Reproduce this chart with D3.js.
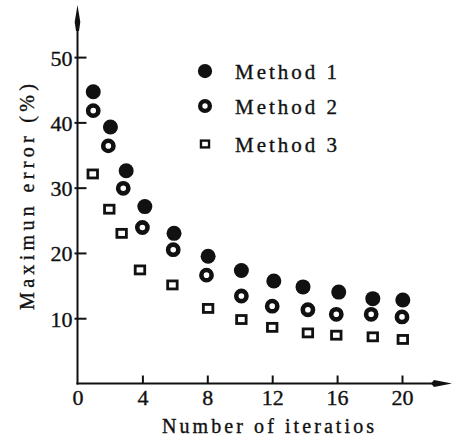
<!DOCTYPE html>
<html>
<head>
<meta charset="utf-8">
<script src="https://cdn.jsdelivr.net/npm/d3@7"></script>
<style>
  html, body { margin: 0; padding: 0; background: #fff; }
  svg { display: block; }
  text { font-family: "Liberation Serif", "DejaVu Serif", serif; fill: #111; stroke: #111; stroke-width: 0.35px; }
</style>
</head>
<body>
<svg id="chart" width="453" height="439"></svg>
<script>
// ---- data ----
const seriesNames = ["Method 1", "Method 2", "Method 3"];
const method1X = [0.97, 2.03, 3.0, 4.15, 5.95, 8.05, 10.1, 12.1, 13.9, 16.1, 18.2, 20.05];
const method1Y = [44.7, 39.3, 32.6, 27.1, 23.0, 19.5, 17.3, 15.7, 14.8, 14.0, 13.0, 12.8];
const method2X = [0.97, 1.9, 2.82, 4.0, 5.9, 7.95, 10.1, 12.0, 14.2, 15.95, 18.1, 20.0];
const method2Y = [41.8, 36.4, 29.9, 23.9, 20.5, 16.6, 13.4, 11.85, 11.3, 10.6, 10.6, 10.2];
const method3X = [0.94, 1.96, 2.72, 3.85, 5.85, 8.05, 10.1, 12.0, 14.2, 15.95, 18.2, 20.05];
const method3Y = [32.1, 26.7, 23.0, 17.4, 15.1, 11.5, 9.8, 8.6, 7.75, 7.4, 7.15, 6.75];
const xTicks = [0, 4, 8, 12, 16, 20];
const yTicks = [10, 20, 30, 40, 50];
const xTitle = "Number of iteratios";
const yTitle = "Maximun error (%)";

// ---- layout ----
const svg = d3.select("#chart");
const ink = "#111";
const x = d3.scaleLinear().domain([0, 20]).range([77.5, 402]);
const y = d3.scaleLinear().domain([0, 50]).range([383.5, 57.1]);
const x0 = x(0), y0 = y(0);

// axes lines with arrows
svg.append("line").attr("x1", x0).attr("x2", x0).attr("y1", y0 + 1).attr("y2", 20)
  .attr("stroke", ink).attr("stroke-width", 2);
svg.append("path").attr("d", `M${x0},5 L${x0 + 2.8},22 L${x0 + 1.5},31 L${x0 - 1.5},31 L${x0 - 2.8},22 Z`)
  .attr("fill", ink);
svg.append("line").attr("x1", x0 - 1).attr("x2", 436).attr("y1", y0).attr("y2", y0)
  .attr("stroke", ink).attr("stroke-width", 2);
svg.append("path").attr("d", `M452,${y0} L434,${y0 - 3.6} L431,${y0} L434,${y0 + 3.6} Z`)
  .attr("fill", ink);

// y axis ticks/labels
const yAxis = d3.axisLeft(y).tickValues(yTicks).tickSize(-9).tickPadding(5).tickFormat(d3.format("d"));
const gy = svg.append("g").attr("transform", `translate(${x0},0)`).call(yAxis);
gy.select(".domain").remove();
gy.selectAll(".tick line").attr("stroke", ink).attr("stroke-width", 2).attr("x1", -3);
gy.selectAll(".tick text").attr("font-size", 22).attr("dy", "0.36em")
  .style("font-family", '"Liberation Serif", serif').attr("fill", ink).attr("stroke", ink).attr("stroke-width", 0.35);

// x axis ticks/labels
const xAxis = d3.axisBottom(x).tickValues(xTicks).tickSize(-8).tickPadding(5).tickFormat(d3.format("d"));
const gx = svg.append("g").attr("transform", `translate(0,${y0})`).call(xAxis);
gx.select(".domain").remove();
gx.selectAll(".tick line").attr("stroke", ink).attr("stroke-width", 2)
  .filter(d => d === 0).remove();
gx.selectAll(".tick text").attr("font-size", 22).attr("dy", "0.74em")
  .style("font-family", '"Liberation Serif", serif').attr("fill", ink).attr("stroke", ink).attr("stroke-width", 0.35);

// titles
svg.append("text").attr("x", 268).attr("y", 433).attr("text-anchor", "middle")
  .attr("font-size", 20).attr("textLength", 212).attr("lengthAdjust", "spacing").text(xTitle);
svg.append("text").attr("transform", "translate(34,197) rotate(-90)").attr("text-anchor", "middle")
  .attr("font-size", 20).attr("textLength", 226).attr("lengthAdjust", "spacing").text(yTitle);

// markers
function drawMarker(g, type, cx, cy, scale) {
  const s = scale || 1;
  if (type === 0) {
    g.append("circle").attr("cx", cx).attr("cy", cy).attr("r", 7.5 * s).attr("fill", ink);
  } else if (type === 1) {
    g.append("circle").attr("cx", cx).attr("cy", cy).attr("r", 5.1 * s)
      .attr("fill", "none").attr("stroke", ink).attr("stroke-width", 4.6 * s);
  } else {
    const w = 9.5 * s, h = 8 * s;
    g.append("rect").attr("x", cx - w / 2).attr("y", cy - h / 2).attr("width", w).attr("height", h)
      .attr("fill", "none").attr("stroke", ink).attr("stroke-width", 2.8 * s);
  }
}
const seriesData = [
  d3.zip(method1X, method1Y),
  d3.zip(method2X, method2Y),
  d3.zip(method3X, method3Y)
];
const gm = svg.append("g");
seriesData.forEach((pts, i) => {
  pts.forEach(([vx, vy]) => drawMarker(gm, i, x(vx), y(vy)));
});

// legend
const legendY = [71, 106, 144];
const legendBase = [78.5, 113.5, 151.5];
seriesNames.forEach((name, i) => {
  drawMarker(svg, i, 205, legendY[i], i === 2 ? 0.85 : 0.95);
  svg.append("text").attr("x", 235).attr("y", legendBase[i]).attr("font-size", 21)
    .attr("textLength", 102).attr("lengthAdjust", "spacing").text(name);
});
</script>
</body>
</html>
